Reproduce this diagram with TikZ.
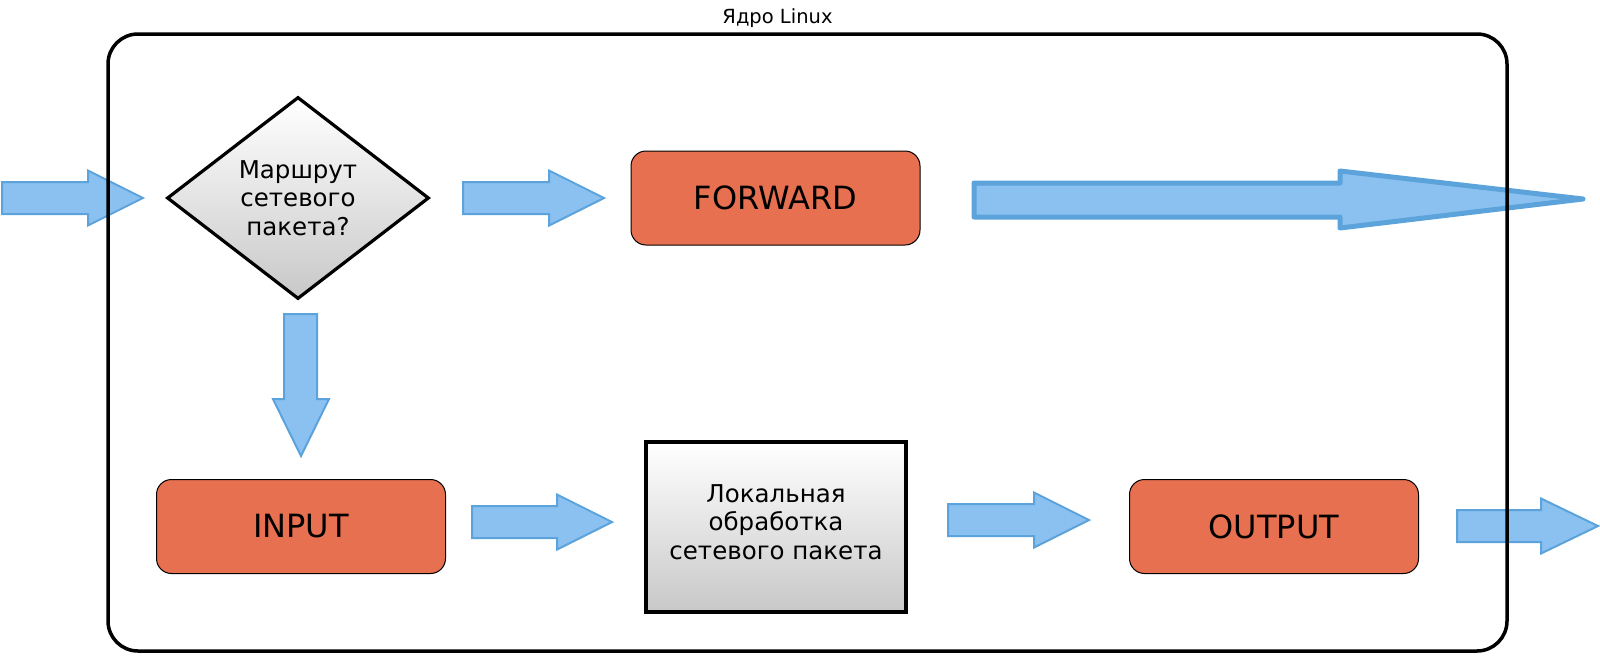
\documentclass[tikz,border=0pt]{standalone}
\usepackage{fontspec}
\setmainfont{DejaVu Sans}
\usetikzlibrary{shapes.geometric}
\definecolor{boxorange}{RGB}{230,112,80}
\definecolor{arrfill}{RGB}{139,193,240}
\definecolor{arrline}{RGB}{91,163,218}
\definecolor{shadegray}{RGB}{200,200,200}
\tikzset{
  chainbox/.style={draw=black, line width=1pt, fill=boxorange, rounded corners=15pt,
    minimum width=289pt, minimum height=94pt, inner sep=0pt,
    font=\fontsize{32}{36}\selectfont},
  graybox/.style={draw=black, line width=3.2pt, top color=white, bottom color=shadegray,
    inner sep=0pt, align=center, font=\fontsize{24.5}{28.5}\selectfont},
  graytext/.style={inner sep=0pt, align=center, font=\fontsize{24.5}{28.5}\selectfont},
  blk/.style={fill=arrfill, draw=arrline, line width=2pt, line join=miter},
  bigblk/.style={blk, line width=5pt, line join=round},
  kernel/.style={draw=black, line width=3.5pt, rounded corners=30pt}
}
\newcommand\hblockarrow[5]{% x0, xbase, xtip, ycenter, style
  \draw[#5] (#1,#4-16) -- (#2,#4-16) -- (#2,#4-27.5) -- (#3,#4) -- (#2,#4+27.5) -- (#2,#4+16) -- (#1,#4+16) -- cycle;}
\begin{document}
\begin{tikzpicture}[x=1pt,y=-1pt]
\useasboundingbox (0,0) rectangle (1600,656);

% nodes
\node[graybox, diamond, minimum width=262pt, minimum height=202pt] (route) at (298,198)
  {Маршрут\\сетевого\\пакета?};
\node[chainbox] (forward) at (775.5,198) {FORWARD};
\node[chainbox] (input) at (301,526.5) {INPUT};
\node[chainbox] (output) at (1274,526.5) {OUTPUT};
\node[graybox, minimum width=260pt, minimum height=170pt] (local) at (776,527) {};
\node[graytext] (localtext) at ([yshift=5pt]local.center)
  {Локальная\\обработка\\сетевого пакета};

% block arrows
\hblockarrow{2}{88}{143}{198}{blk}
\hblockarrow{463}{549}{604}{198}{blk}
\hblockarrow{472}{557}{612}{522}{blk}
\hblockarrow{948}{1034}{1089}{520}{blk}
\hblockarrow{1457}{1541}{1598}{526}{blk}
\draw[bigblk] (974,183) -- (1340,183) -- (1340,171) -- (1583,199) -- (1340,228) -- (1340,217) -- (974,217) -- cycle;
\draw[blk] (284,314) -- (317,314) -- (317,399) -- (329,399) -- (301,456) -- (273,399) -- (284,399) -- cycle;

% kernel frame and title
\draw[kernel] (108,34) rectangle (1507,651);
\node[font=\fontsize{19.5}{23}\selectfont, anchor=base] (title) at (777.5,23) {Ядро Linux};
\end{tikzpicture}
\end{document}
